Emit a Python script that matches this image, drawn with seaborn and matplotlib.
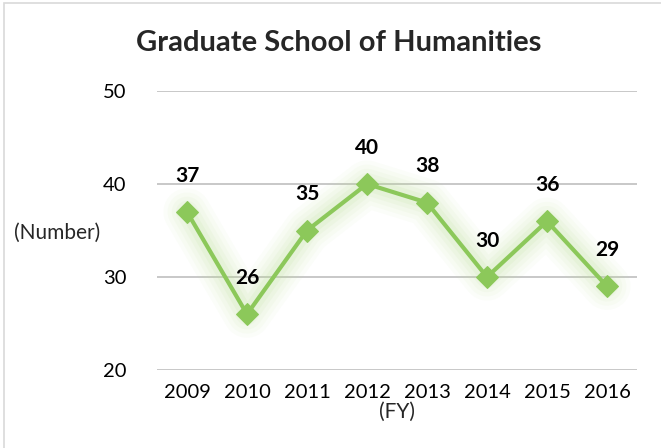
import matplotlib.pyplot as plt
import matplotlib.patches as mpatches
import seaborn as sns
import pandas as pd

# values
years = ['2009', '2010', '2011', '2012', '2013', '2014', '2015', '2016']
counts = [37, 26, 35, 40, 38, 30, 36, 29]
y_ticks = [20, 30, 40, 50]

df = pd.DataFrame({'FY': years, 'Number': counts})

sns.set_style('white')
plt.rcParams['font.family'] = ['Lato', 'DejaVu Sans']

line_green = '#8CC85A'
glow_green = '#B9DE92'

fig = plt.figure(figsize=(6.61, 4.48), dpi=100)
ax = fig.add_axes([157 / 661, 1 - 370 / 448, 480 / 661, 279 / 448])

# soft glow under the line and markers
for lw, a in [(34, 0.05), (28, 0.06), (22, 0.07), (16, 0.09), (10, 0.12)]:
    sns.lineplot(data=df, x='FY', y='Number', ax=ax, color=glow_green,
                 linewidth=lw, alpha=a, solid_capstyle='round',
                 solid_joinstyle='round', zorder=2)

sns.lineplot(data=df, x='FY', y='Number', ax=ax, color=line_green,
             linewidth=3, marker='D', markersize=11,
             markeredgecolor=line_green, zorder=4)

for i, v in enumerate(counts):
    ax.annotate(str(v), (i, v), xytext=(0, 26), textcoords='offset points',
                ha='center', va='center', fontsize=15, fontweight='bold',
                color='black')

ax.set_xlim(-0.5, len(years) - 0.5)
ax.set_ylim(20, 50)
ax.set_yticks(y_ticks)
ax.yaxis.grid(True, color='#BFBFBF', linewidth=1.2)
ax.xaxis.grid(False)
for s in ax.spines.values():
    s.set_visible(False)
ax.tick_params(axis='both', length=0, labelsize=14.5, colors='black')
ax.tick_params(axis='y', pad=22)
ax.tick_params(axis='x', pad=10)
ax.set_xlabel('')
ax.set_ylabel('')

fig.text(57 / 661, 1 - 233 / 448, '(Number)', ha='center', va='center', fontsize=15)
fig.text(397 / 661, 1 - 412 / 448, '(FY)', ha='center', va='center', fontsize=15)
fig.text(339 / 661, 1 - 43 / 448, 'Graduate School of Humanities', ha='center',
         va='center', fontsize=21, fontweight='bold')

fig.patches.append(mpatches.Rectangle((4 / 661, -0.1), 1.1, 1 - 3 / 448 + 0.1,
                                      transform=fig.transFigure, fill=False,
                                      edgecolor='#D9D9D9', linewidth=1.2))

fig.savefig('out.png', dpi=100, facecolor='white')
